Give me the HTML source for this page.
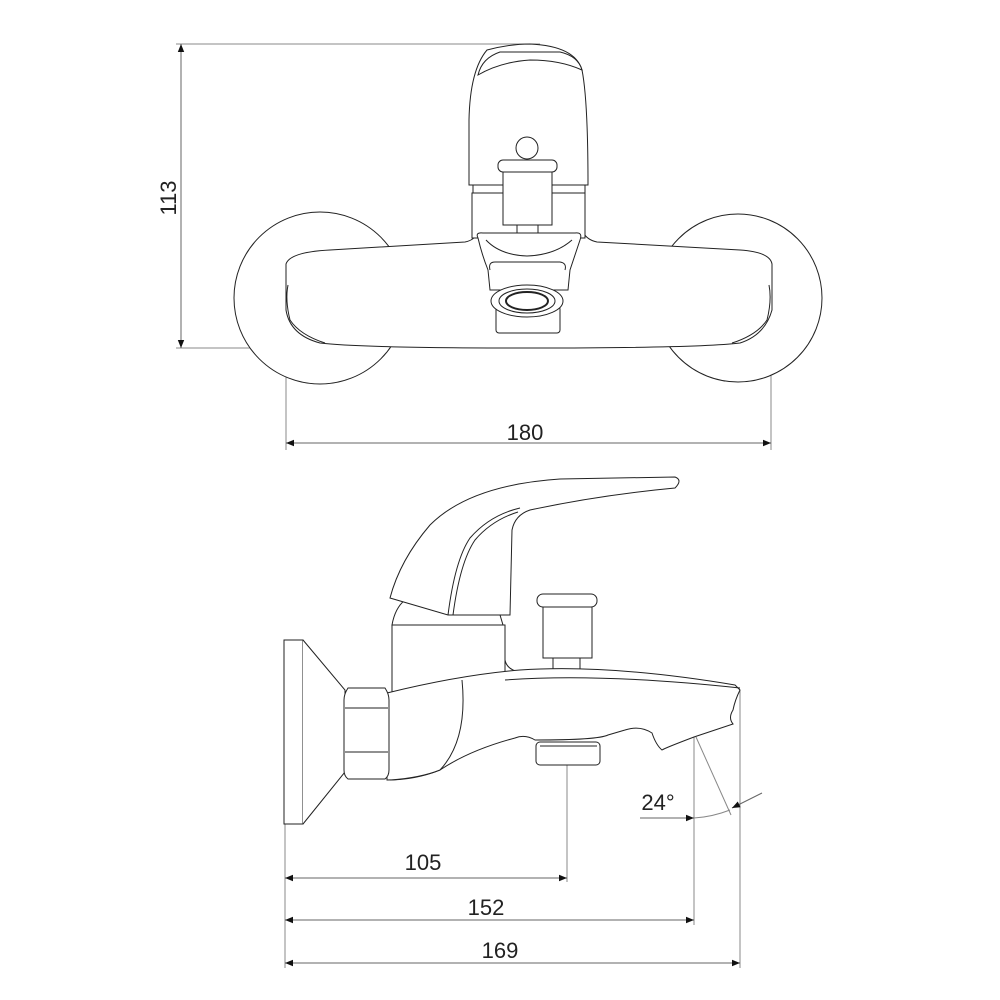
<!DOCTYPE html>
<html><head><meta charset="utf-8"><style>
html,body{margin:0;padding:0;background:#fff;}
svg{display:block}
text{font-family:"Liberation Sans",sans-serif;font-size:22px;fill:#222}
</style></head><body>
<svg width="1000" height="1000" viewBox="0 0 1000 1000" xmlns="http://www.w3.org/2000/svg">
<defs>
<marker id="a" viewBox="0 0 10 10" refX="10" refY="5" markerWidth="14" markerHeight="8" orient="auto-start-reverse" markerUnits="userSpaceOnUse"><path d="M0,1 L10,5 L0,9 z" fill="#111"/></marker>
</defs>
<g fill="none" stroke="#888" stroke-width="1">
<!-- top view dims -->
<line x1="176" y1="44" x2="540" y2="44"/>
<line x1="176" y1="348" x2="380" y2="348"/>
<line x1="181" y1="44" x2="181" y2="348" marker-start="url(#a)" marker-end="url(#a)" stroke="#666"/>
<line x1="286" y1="270" x2="286" y2="450"/>
<line x1="771" y1="270" x2="771" y2="450"/>
<line x1="286" y1="443" x2="771" y2="443" marker-start="url(#a)" marker-end="url(#a)" stroke="#666"/>
<!-- side view dims -->
<line x1="285" y1="824" x2="285" y2="968"/>
<line x1="567" y1="765" x2="567" y2="882"/>
<line x1="694" y1="737" x2="694" y2="925"/>
<line x1="740" y1="690" x2="740" y2="968"/>
<line x1="285" y1="878" x2="567" y2="878" marker-start="url(#a)" marker-end="url(#a)" stroke="#666"/>
<line x1="285" y1="920" x2="694" y2="920" marker-start="url(#a)" marker-end="url(#a)" stroke="#666"/>
<line x1="285" y1="963" x2="740" y2="963" marker-start="url(#a)" marker-end="url(#a)" stroke="#666"/>
<line x1="640" y1="818" x2="694" y2="818" marker-end="url(#a)" stroke="#666"/>
<line x1="762" y1="793" x2="732" y2="808" marker-end="url(#a)" stroke="#666"/>
<line x1="696" y1="737" x2="731" y2="815"/>
<path d="M694,818 Q712,817 730,810"/>
</g>
<g fill="#fff" stroke="#222" stroke-width="1">
<!-- top view: rosettes -->
<circle cx="320" cy="298" r="86"/>
<circle cx="738" cy="298" r="84"/>
<!-- body -->
<path d="M286,264 Q290,252 330,250 L465,242 Q475,240 478,232 L583,232 Q587,240 597,242 L740,250 Q770,252 772,264 L772,310 Q765,335 740,343 Q700,348 530,348 Q360,348 320,343 Q290,335 286,310 Z"/>
<path d="M288,285 Q285,300 290,320 Q300,335 325,343" />
<path d="M769,285 Q772,300 767,320 Q757,335 732,343" />
<!-- handle -->
<path d="M469,185 L469,120 Q470,70 487,50 Q510,44 530,44 Q575,46 582,70 Q588,100 588,185 Z"/>
<path d="M478,75 Q482,58 500,52 L560,52 Q578,56 582,70 Q560,60 530,60 Q500,62 478,75 Z"/>
<rect x="473" y="185" width="112" height="8"/>
<rect x="472" y="193" width="113" height="45"/>
<circle cx="527" cy="148" r="11"/>
<rect x="498" y="160" width="59" height="12" rx="5"/>
<rect x="503" y="172" width="49" height="53"/>
<rect x="517" y="225" width="21" height="10"/>
<!-- spout -->
<path d="M478,238 Q475,232 483,233 L575,233 Q583,232 580,240 Q575,255 570,270 L568,290 L490,290 L488,270 Q482,255 478,238 Z"/>
<path d="M486,240 Q500,255 527,256 Q555,255 572,240"/>
<path d="M490,270 Q488,262 495,262 L560,262 Q567,263 565,270"/>
<rect x="496" y="306" width="64" height="27" rx="3"/>
<ellipse cx="527" cy="301" rx="36" ry="16"/>
<ellipse cx="527" cy="301" rx="28" ry="12"/>
<ellipse cx="527" cy="301" rx="21" ry="9" stroke-width="2"/>
<!-- side view: wall plate -->
<rect x="284" y="640" width="19" height="184"/>
<path d="M303,640 L345,690 L345,772 L303,824"/>
<!-- handle base -->
<path d="M392,625 Q395,608 405,600 L500,615 L503,625 Z"/>
<rect x="392" y="625" width="113" height="75"/>
<path d="M505,640 L505,660 Q507,670 520,672"/>
<!-- knob -->
<rect x="553" y="657" width="27" height="12"/>
<rect x="543" y="606" width="49" height="52"/>
<rect x="537" y="594" width="60" height="13" rx="6"/>
<!-- body -->
<path d="M387,693 Q460,675 520,670 Q610,664 735,685 L740,690 Q735,700 733,710 Q728,718 733,724 L694,737 Q665,748 662,750 Q656,745 652,733 Q640,725 625,730 L608,735 Q598,740 535,740 Q525,734 515,738 Q470,750 440,770 Q415,780 387,780 Z"/>
<path d="M505,680 Q600,673 740,688"/>
<path d="M462,680 Q468,740 440,770 Q420,778 390,780"/>
<!-- nut -->
<path d="M348,688 L385,688 Q389,694 389,700 L389,770 Q389,776 385,779 L348,779 Q344,776 344,770 L344,700 Q344,694 348,688 Z"/>
<line x1="345" y1="708" x2="388" y2="708"/>
<line x1="345" y1="752" x2="388" y2="752"/>
<!-- aerator -->
<rect x="536" y="742" width="64" height="23" rx="4"/>
<line x1="540" y1="746" x2="597" y2="746"/>
<!-- lever -->
<path d="M390,598 Q400,560 430,525 Q470,485 560,479 L675,477 Q683,480 675,488 Q600,495 530,510 Q515,515 512,530 L510,615 L448,615 Z"/>
<path d="M448,615 Q455,560 470,538 Q490,515 520,508"/>
<path d="M453,615 Q460,562 475,540 Q492,520 518,512"/>
</g>
<text x="440" y="440" text-anchor="middle" transform="translate(85,0)">180</text>
<text transform="translate(176,198) rotate(-90)" text-anchor="middle">113</text>
<text x="423" y="870" text-anchor="middle">105</text>
<text x="486" y="915" text-anchor="middle">152</text>
<text x="500" y="958" text-anchor="middle">169</text>
<text x="658" y="810" text-anchor="middle">24°</text>
</svg>
</body></html>
